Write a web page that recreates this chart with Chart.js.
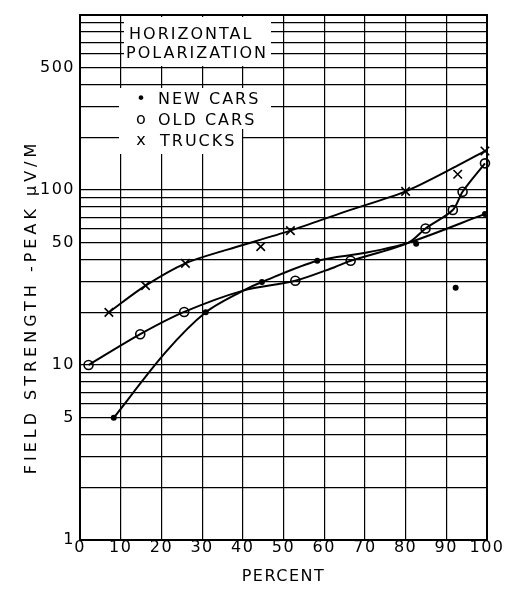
<!DOCTYPE html>
<html>
<head>
<meta charset="utf-8">
<script src="https://cdn.jsdelivr.net/npm/chart.js@4"></script>
<style>
  html, body { margin: 0; padding: 0; background: #fff; }
  #chart { display: block; }
</style>
</head>
<body>
<canvas id="chart" width="520" height="590"></canvas>
<script>
// measured points: percent vs field strength (uV/m)
const newCarsPct = [8.3, 30.9, 44.7, 58.3, 82.6, 92.3, 99.5];
const newCarsVal = [5.0, 20.0, 29.8, 39.4, 49.3, 27.6, 73];
const oldCarsPct = [2.1, 14.8, 25.6, 52.9, 66.5, 84.9, 91.6, 94.0, 99.5];
const oldCarsVal = [10.0, 15.0, 20.1, 30.3, 39.4, 60.3, 76.9, 97.7, 142];
const trucksPct = [7.1, 16.1, 25.9, 44.4, 51.7, 80.0, 92.8, 99.5];
const trucksVal = [20.0, 28.4, 38.1, 47.5, 58.6, 98.2, 123, 167];

// the hand drawn curves through them
const newCurvePct = [8.3, 21, 30.9, 40.1, 44.7, 58.3, 70.2, 80.6, 99.5];
const newCurveVal = [5.0, 11.8, 20.0, 26.6, 29.8, 39.4, 43.8, 49.9, 73];
const oldCurvePct = [2.1, 14.8, 25.6, 40.1, 52.9, 62.4, 66.5, 80.6, 84.9, 91.6, 94.0, 99.5];
const oldCurveVal = [10.0, 15.0, 20.1, 26.6, 30.3, 36.1, 39.4, 49.9, 60.3, 76.9, 97.7, 142];
const truckCurvePct = [7.1, 16.1, 25.9, 36, 51.7, 65, 80.0, 92.3, 99.5];
const truckCurveVal = [20.0, 28.4, 38.1, 45.5, 58.6, 75, 98.2, 136, 167];

// axis
const yTickLabels = [1, 5, 10, 50, 100, 500];
const yDecades = [1, 10, 100];

const yGrid = [];
yDecades.forEach(d => { for (let k = 1; k <= 9; k++) yGrid.push(k * d); });
yGrid.push(1000);

const pts = (xs, ys) => xs.map((x, i) => ({x: x, y: ys[i]}));

function curve(xs, ys) {
    return {
        data: pts(xs, ys),
        borderColor: '#000',
        borderWidth: 2,
        pointRadius: 0,
        tension: 0.3,
        fill: false
    };
}

function markers(xs, ys, style, r, bg) {
    return {
        data: pts(xs, ys),
        showLine: false,
        pointStyle: style,
        pointRadius: r,
        pointBorderWidth: 1.6,
        pointBorderColor: '#000',
        pointBackgroundColor: bg,
        clip: false
    };
}

const annotate = {
    id: 'annotate',
    beforeDraw(chart) {
        chart.ctx.letterSpacing = '1.5px';
    },
    beforeDatasetsDraw(chart) {
        const ctx = chart.ctx;
        const a = chart.chartArea;
        ctx.save();
        // white label boxes over the grid
        ctx.fillStyle = '#fff';
        ctx.fillRect(124, 17, 147, 49);
        ctx.fillRect(119, 88, 152, 41);
        ctx.fillRect(119, 129, 123, 25);

        // frame
        ctx.strokeStyle = '#000';
        ctx.lineWidth = 2;
        ctx.strokeRect(a.left, a.top, a.right - a.left, a.bottom - a.top);

        ctx.fillStyle = '#000';
        ctx.font = '16px "DejaVu Sans"';
        ctx.letterSpacing = '2px';
        ctx.textBaseline = 'middle';
        ctx.textAlign = 'left';
        ctx.fillText('HORIZONTAL', 129, 35);
        ctx.fillText('POLARIZATION', 126, 54);
        ctx.fillText('NEW CARS', 158, 100);
        ctx.fillText('OLD CARS', 158, 121);
        ctx.fillText('TRUCKS', 160, 142);
        ctx.textAlign = 'center';
        ctx.letterSpacing = '0px';
        ctx.fillText('\u2022', 141, 100);
        ctx.fillText('o', 141, 120);
        ctx.fillText('x', 141, 141);

        // y axis title
        ctx.letterSpacing = '4px';
        ctx.translate(32, 307);
        ctx.rotate(-Math.PI / 2);
        ctx.fillText('FIELD STRENGTH -PEAK \u03bcV/M', 0, 0);
        ctx.restore();
    }
};

Chart.defaults.font.family = '"DejaVu Sans"';
Chart.defaults.font.size = 16;
Chart.defaults.color = '#000';

new Chart(document.getElementById('chart'), {
    type: 'line',
    data: {
        datasets: [
            curve(newCurvePct, newCurveVal),
            curve(oldCurvePct, oldCurveVal),
            curve(truckCurvePct, truckCurveVal),
            markers(newCarsPct, newCarsVal, 'circle', 2.2, '#000'),
            markers(oldCarsPct, oldCarsVal, 'circle', 4.5, 'rgba(0,0,0,0)'),
            markers(trucksPct, trucksVal, 'crossRot', 6, '#000')
        ]
    },
    options: {
        responsive: false,
        animation: false,
        layout: { padding: { top: 15, right: 33, left: 0, bottom: 0 } },
        plugins: { legend: { display: false }, tooltip: { enabled: false } },
        scales: {
            x: {
                type: 'linear',
                min: 0,
                max: 100,
                afterFit: s => { s.height = 50; },
                grid: { color: '#000', lineWidth: 1.2, drawTicks: false },
                border: { display: true, color: '#000', width: 2 },
                ticks: { stepSize: 10, autoSkip: false, maxRotation: 0, padding: -2 },
                title: { display: true, text: 'PERCENT', padding: { top: 0, bottom: 4 } }
            },
            y: {
                type: 'logarithmic',
                min: 1,
                max: 1000,
                afterFit: s => { s.width = 80; },
                afterBuildTicks: s => { s.ticks = yGrid.map(v => ({ value: v })); },
                grid: { color: '#000', lineWidth: 1.2, drawTicks: false },
                border: { display: true, color: '#000', width: 2 },
                ticks: {
                    autoSkip: false,
                    padding: 5,
                    callback: v => yTickLabels.includes(v) ? String(v) : ''
                }
            }
        }
    },
    plugins: [annotate]
});
</script>
</body>
</html>
